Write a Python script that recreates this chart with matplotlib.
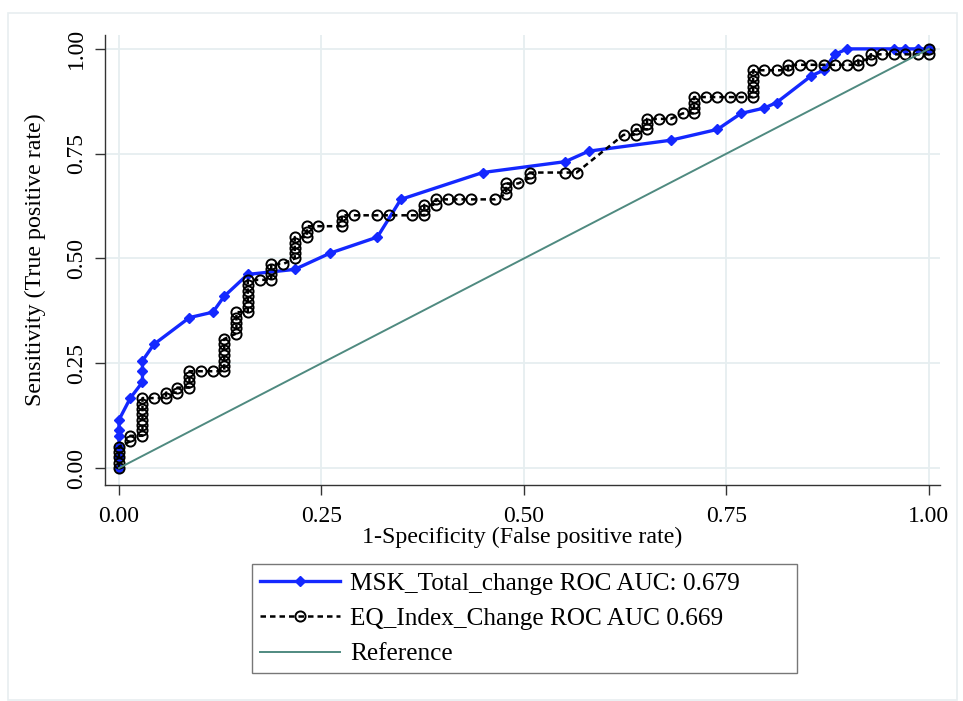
import numpy as np
import matplotlib
matplotlib.use("Agg")
import matplotlib.pyplot as plt
from matplotlib.patches import Rectangle

plt.rcParams['font.family'] = ['Liberation Serif', 'DejaVu Serif']

# MSK_Total_change ROC points (1-specificity, sensitivity)
msk_fpr = [0.0, 0.0, 0.0, 0.0, 0.0, 0.0, 0.014, 0.029, 0.029, 0.029, 0.043,
           0.087, 0.116, 0.130, 0.159, 0.217, 0.261, 0.319, 0.348, 0.449,
           0.551, 0.580, 0.681, 0.739, 0.768, 0.797, 0.812, 0.855, 0.870,
           0.884, 0.899, 0.957, 0.971, 0.986, 1.0]
msk_tpr = [0.0, 0.026, 0.051, 0.077, 0.090, 0.115, 0.167, 0.205, 0.231, 0.256, 0.295,
           0.359, 0.372, 0.410, 0.462, 0.474, 0.513, 0.551, 0.641, 0.705,
           0.731, 0.756, 0.782, 0.808, 0.846, 0.859, 0.872, 0.936, 0.949,
           0.987, 1.0, 1.0, 1.0, 1.0, 1.0]

# EQ_Index_Change ROC points
eq_fpr = [0.0, 0.0, 0.0, 0.0, 0.0,
          0.014, 0.014,
          0.029, 0.029, 0.029, 0.029, 0.029, 0.029, 0.029, 0.029,
          0.043, 0.058, 0.058, 0.072, 0.072,
          0.087, 0.087, 0.087, 0.087, 0.101, 0.116,
          0.130, 0.130, 0.130, 0.130, 0.130, 0.130, 0.130,
          0.145, 0.145, 0.145, 0.145, 0.145,
          0.159, 0.159, 0.159, 0.159, 0.159, 0.159, 0.159,
          0.174, 0.188, 0.188, 0.188, 0.188, 0.203,
          0.217, 0.217, 0.217, 0.217, 0.217,
          0.232, 0.232, 0.232, 0.246,
          0.275, 0.275, 0.275, 0.290, 0.319, 0.333, 0.362,
          0.377, 0.377, 0.377, 0.391, 0.391,
          0.406, 0.420, 0.435, 0.464,
          0.478, 0.478, 0.478, 0.493, 0.507, 0.507, 0.551, 0.565,
          0.623, 0.638, 0.638, 0.652, 0.652, 0.652, 0.667, 0.681, 0.696,
          0.710, 0.710, 0.710, 0.710, 0.725, 0.739, 0.754, 0.768,
          0.783, 0.783, 0.783, 0.783, 0.783, 0.783,
          0.797, 0.812, 0.826, 0.826, 0.841, 0.855, 0.870, 0.884, 0.899,
          0.913, 0.913, 0.928, 0.928, 0.942, 0.957, 0.971, 0.986, 1.0, 1.0]
eq_tpr = [0.0, 0.013, 0.026, 0.038, 0.051,
          0.064, 0.077,
          0.077, 0.090, 0.103, 0.115, 0.128, 0.141, 0.154, 0.167,
          0.167, 0.167, 0.180, 0.180, 0.192,
          0.192, 0.205, 0.218, 0.231, 0.231, 0.231,
          0.231, 0.244, 0.256, 0.269, 0.282, 0.295, 0.308,
          0.321, 0.333, 0.346, 0.359, 0.372,
          0.372, 0.385, 0.397, 0.410, 0.423, 0.436, 0.449,
          0.449, 0.449, 0.462, 0.474, 0.487, 0.487,
          0.500, 0.513, 0.526, 0.538, 0.551,
          0.551, 0.564, 0.577, 0.577,
          0.577, 0.590, 0.603, 0.603, 0.603, 0.603, 0.603,
          0.603, 0.615, 0.628, 0.628, 0.641,
          0.641, 0.641, 0.641, 0.641,
          0.654, 0.667, 0.679, 0.679, 0.692, 0.705, 0.705, 0.705,
          0.795, 0.795, 0.808, 0.808, 0.821, 0.833, 0.833, 0.833, 0.846,
          0.846, 0.859, 0.872, 0.885, 0.885, 0.885, 0.885, 0.885,
          0.885, 0.897, 0.910, 0.923, 0.936, 0.949,
          0.949, 0.949, 0.949, 0.962, 0.962, 0.962, 0.962, 0.962, 0.962,
          0.962, 0.974, 0.974, 0.987, 0.987, 0.987, 0.987, 0.987, 0.987, 1.0]

ref_x = [0.0, 1.0]
ref_y = [0.0, 1.0]

ticks = [0.0, 0.25, 0.5, 0.75, 1.0]
tick_labels = ["0.00", "0.25", "0.50", "0.75", "1.00"]

labels = ["MSK_Total_change ROC AUC: 0.679",
          "EQ_Index_Change ROC AUC 0.669",
          "Reference"]

fig = plt.figure(figsize=(9.63, 7.01), dpi=100)
fig.patches.append(Rectangle((0.008, 0.002), 0.986, 0.98, transform=fig.transFigure,
                             fill=False, edgecolor='#e8eef0', lw=1.2))
ax = fig.add_axes([0.109, 0.308, 0.867, 0.642])

grid_c = '#e6eef0'
for t in ticks:
    ax.axvline(t, color=grid_c, lw=1.3, zorder=0)
    ax.axhline(t, color=grid_c, lw=1.3, zorder=0)

l1, = ax.plot(msk_fpr, msk_tpr, '-', color='#1428ff', lw=2.4, marker='D',
              markersize=5.5, zorder=3)
l2, = ax.plot(eq_fpr, eq_tpr, linestyle=(0, (2.2, 1.6)), color='black', lw=1.8,
              marker='o', markersize=7.3, markerfacecolor='none',
              markeredgewidth=1.4, zorder=4)
l3, = ax.plot(ref_x, ref_y, '-', color='#4f8a80', lw=1.4, zorder=5)

ax.set_xlim(-0.0173, 1.0136)
ax.set_ylim(-0.0406, 1.033)
ax.set_xticks(ticks)
ax.set_xticklabels(tick_labels, fontsize=17)
ax.set_yticks(ticks)
ax.set_yticklabels(tick_labels, fontsize=17, rotation=90, va='center')
ax.tick_params(direction='out', length=7, width=1, color='#333333')
ax.tick_params(axis='x', pad=8)
ax.tick_params(axis='y', pad=6)
for side in ['top', 'right']:
    ax.spines[side].set_visible(False)
for side in ['left', 'bottom']:
    ax.spines[side].set_color('#333333')
    ax.spines[side].set_linewidth(1)

ax.set_xlabel("1-Specificity (False positive rate)", fontsize=17.3, labelpad=0)
ax.set_ylabel("Sensitivity (True positive rate)", fontsize=17.3, labelpad=14)

leg = fig.legend([l1, l2, l3], labels, loc='lower left',
                 bbox_to_anchor=(0.262, 0.040, 0.566, 0.157), mode='expand',
                 fontsize=18.2, frameon=True, fancybox=False, handlelength=3.15,
                 handletextpad=0.42, borderaxespad=0, labelspacing=0.5,
                 borderpad=0.3)
leg.get_frame().set_edgecolor('#555555')
leg.get_frame().set_linewidth(1)

fig.savefig("out.png", dpi=100)
